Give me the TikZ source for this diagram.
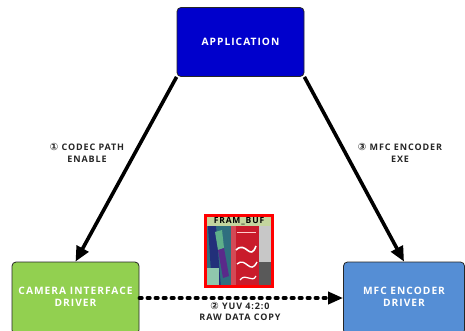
\documentclass[tikz,border=0pt]{standalone}
\usepackage{fontspec}
\setmainfont{Open Sans}
\newfontfamily\boxfont[LetterSpace=10]{Open Sans}
\newfontfamily\circfont{DejaVu Sans}
\usetikzlibrary{arrows.meta}
\definecolor{appblue}{HTML}{0000CC}
\definecolor{camgreen}{HTML}{92D050}
\definecolor{mfcblue}{HTML}{558ED5}
\definecolor{bufhead}{HTML}{C4D59E}
\definecolor{canred}{HTML}{C91B2B}
\definecolor{imgteal}{HTML}{2F6F7F}
\definecolor{imgblue}{HTML}{22307A}
\definecolor{imgviolet}{HTML}{5A2A8A}
\definecolor{imggreen}{HTML}{5FB08A}
\newcommand{\cnum}[1]{{\circfont\fontsize{10}{10}\selectfont #1}}
\begin{document}
\begin{tikzpicture}[x=1pt,y=-1pt,
  box/.style={draw=black!85, line width=0.8pt, rounded corners=4pt,
    minimum width=127pt, minimum height=72pt, text=white, align=center,
    inner sep=0pt, font=\boxfont\bfseries\fontsize{10.2}{12}\selectfont},
  lbl/.style={align=center, inner sep=0pt, text=black!85,
    font=\boxfont\bfseries\fontsize{9}{11.5}\selectfont},
  solidarrow/.style={line width=3.6pt, -{Triangle[length=15pt,width=13pt]}},
  dotarrow/.style={line width=3.6pt, line cap=round, dash pattern=on 2.5pt off 5.5pt,
    -{Triangle[length=15pt,width=12pt]}}]
\useasboundingbox (0,0) rectangle (465,330);
\clip (0,0) rectangle (465,330);
\fill[white] (0,0) rectangle (465,330);

\node[box, fill=appblue, minimum height=69pt] (app) at (240.5,42) {APPLICATION};
\node[box, fill=camgreen, text depth=2pt] (cam) at (75.5,298) {CAMERA INTERFACE\\DRIVER};
\node[box, fill=mfcblue, minimum width=121pt, text depth=2pt] (mfc) at (404,298) {MFC ENCODER\\DRIVER};

% frame buffer picture contents
\begin{scope}
  \clip (205,215) rectangle (273,287);
  \fill[bufhead] (205,215) rectangle (273,226);
  \fill[imgteal] (205,226) rectangle (233,288);
  \fill[imgblue] (208,226) -- (216,226) -- (221,288) -- (212,288) -- cycle;
  \fill[imggreen] (215,232) -- (222,230) -- (224,248) -- (218,250) -- cycle;
  \fill[imgviolet] (218,250) -- (224,248) -- (229,276) -- (223,278) -- cycle;
  \fill[imggreen!70!white] (205,268) rectangle (219,288);
  \fill[canred] (231,226) -- (260,226) -- (259,288) -- (233,288) -- cycle;
  \fill[canred!80!white] (231,226) rectangle (236,288);
  \fill[black!22] (259,226) rectangle (275,262);
  \fill[black!65] (259,262) rectangle (275,288);
  \draw[white, line width=1.6pt] (236,250) .. controls (246,240) and (250,262) .. (256,246);
  \draw[white, line width=1.4pt] (237,264) .. controls (246,256) and (250,276) .. (257,262);
  \draw[white, line width=1.2pt] (240,280) .. controls (246,272) and (252,284) .. (256,276);
  \draw[white!80!red, line width=1pt] (237,232) -- (256,232);
\end{scope}
\node[draw=red, line width=2.4pt, minimum width=67pt, minimum height=71pt, inner sep=0pt] (buf) at (239,251) {};
\node[font=\boxfont\bfseries\fontsize{8.5}{9}\selectfont, inner sep=0pt] (buftitle) at (239,221) {FRAM\_BUF};

\draw[solidarrow] (app.south west) -- (cam.north);
\draw[solidarrow] (app.south east) -- (mfc.north);
\draw[dotarrow] (cam.east) -- (mfc.west);

\node[lbl] (l1) at (87,153) {\cnum{①} CODEC PATH\\ENABLE};
\node[lbl] (l3) at (400,153) {\cnum{③} MFC ENCODER\\EXE};
\node[lbl] (l2) at (240,311.5) {\cnum{②} YUV 4:2:0\\RAW DATA COPY};
\end{tikzpicture}
\end{document}
